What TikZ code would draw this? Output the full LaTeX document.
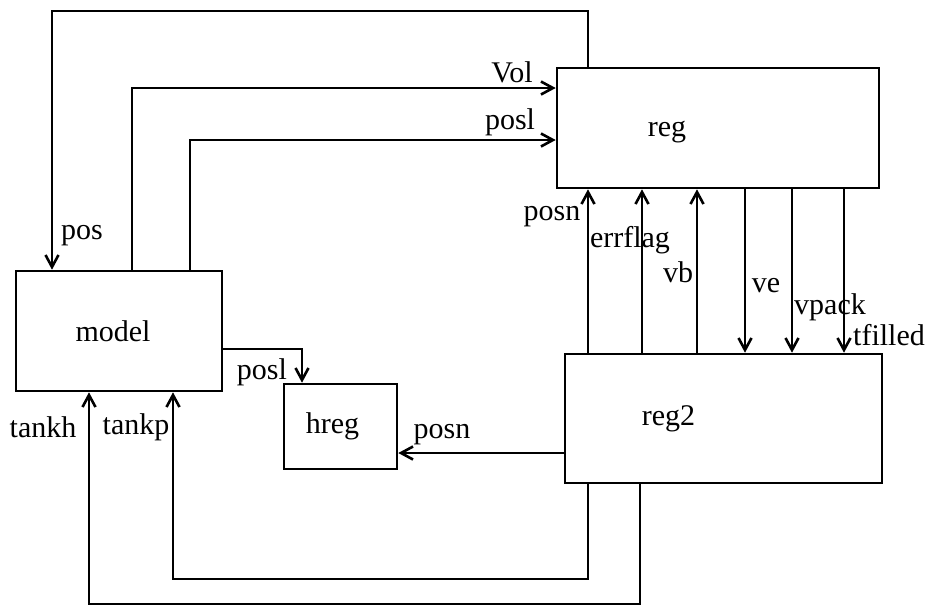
\documentclass[tikz,border=0pt]{standalone}
\usepackage{fontspec}
\setmainfont{Liberation Serif}
\usetikzlibrary{arrows.meta,calc,positioning}

\begin{document}
\begin{tikzpicture}[x=0.5pt,y=-0.5pt,>={Straight Barb[length=6pt,width=6.5pt]},
          line width=1.3pt,
          every node/.style={font=\fontsize{15}{18}\selectfont},
          blk/.style={draw,rectangle,inner sep=0pt}]
        \useasboundingbox (0,0) rectangle (927,607);
        % blocks
        \node[blk,minimum width=161pt,minimum height=60pt,
          label={[name=treg,xshift=-25.5pt,yshift=-2pt]center:reg}] (reg) at (718,128) {};
        \node[blk,minimum width=103pt,minimum height=60pt,
          label={[name=tmodel,xshift=-3pt]center:model}] (model) at (119,331) {};
        \node[blk,minimum width=56.5pt,minimum height=42.5pt,
          label={[name=threg,xshift=-4pt]center:hreg}] (hreg) at (340.5,426.5) {};
        \node[blk,minimum width=158.5pt,minimum height=64.5pt,
          label={[name=treg2,xshift=-27.5pt]center:reg2}] (reg2) at (723.5,418.5) {};
        % connectors
        \draw[->] (588,0 |- reg.north) |- (52,11) -- (52,0 |- model.north);
        \draw[->] (132,0 |- model.north) |- (reg.west |- 0,88);
        \draw[->] (190,0 |- model.north) |- (reg.west |- 0,140);
        \foreach \x in {588,642,697}
          \draw[->] (\x,0 |- reg2.north) -- (\x,0 |- reg.south);
        \foreach \x in {745,792,844}
          \draw[->] (\x,0 |- reg.south) -- (\x,0 |- reg2.north);
        \draw[->] (model.east |- 0,349) -| (302,0 |- hreg.north);
        \draw[->] (reg2.west |- 0,453) -- (hreg.east |- 0,453);
        \draw[->] (588,0 |- reg2.south) |- (173,579) -- (173,0 |- model.south);
        \draw[->] (640,0 |- reg2.south) |- (89,604) -- (89,0 |- model.south);
        % signal names
        \node (lpos) at (82,236) {pos};
        \node (lvol) at (512,72) {Vol};
        \node (lposl) at (510,122) {posl};
        \node (lposn) at (552,217) {posn};
        \node (lerr) at (630,240) {errflag};
        \node (lvb) at (678,272) {vb};
        \node (lve) at (766,286) {ve};
        \node (lvpack) at (830,307) {vpack};
        \node (ltf) at (889,335) {tfilled};
        \node (lposl2) at (262,372) {posl};
        \node (lposn2) at (442,435) {posn};
        \node (ltankh) at (43,427) {tankh};
        \node (ltankp) at (136,427) {tankp};
      \end{tikzpicture}
\end{document}
